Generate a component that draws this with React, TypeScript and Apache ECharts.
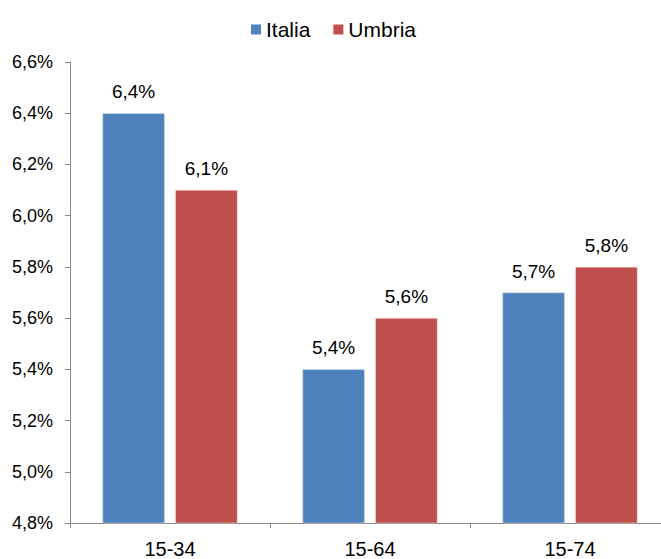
import React, { useEffect, useRef } from "react";
import * as echarts from "echarts";

const categories = ["15-34", "15-64", "15-74"];
const italia = [6.4, 5.4, 5.7];
const umbria = [6.1, 5.6, 5.8];
const seriesNames = ["Italia", "Umbria"];
const colors = ["#4F81BD", "#C0504D"];

const fmt = (v: number) => v.toFixed(1).replace(".", ",") + "%";

export default function App() {
  const ref = useRef<HTMLDivElement>(null);
  useEffect(() => {
    const chart = echarts.init(ref.current!, null, { renderer: "svg" });
    const font = "'Liberation Sans', Arial, sans-serif";
    const label = {
      show: true,
      position: "top",
      distance: 12,
      fontSize: 19,
      color: "#000",
      fontFamily: font,
      formatter: (p: any) => fmt(p.value),
    };
    chart.setOption({
      animation: false,
      textStyle: { fontFamily: font },
      legend: {
        top: 14,
        left: 246,
        itemWidth: 10,
        itemHeight: 10,
        itemGap: 23,
        icon: "rect",
        itemStyle: { borderWidth: 0 },
        textStyle: { fontSize: 21, color: "#000", fontFamily: font },
        data: seriesNames,
      },
      grid: { left: 70, right: 0, top: 62, bottom: 36 },
      xAxis: {
        type: "category",
        data: categories,
        axisLine: { lineStyle: { color: "#868686", width: 1 } },
        axisTick: { show: true, length: 5, lineStyle: { color: "#868686" } },
        axisLabel: { fontSize: 20, color: "#000", margin: 16, fontFamily: font },
      },
      yAxis: {
        type: "value",
        min: 4.8,
        max: 6.6,
        interval: 0.2,
        axisLine: { show: true, lineStyle: { color: "#868686", width: 1 } },
        axisTick: { show: true, length: 5, lineStyle: { color: "#868686" } },
        splitLine: { show: false },
        axisLabel: {
          fontSize: 18,
          color: "#000",
          margin: 17,
          fontFamily: font,
          formatter: (v: number) => fmt(v),
        },
      },
      series: [
        {
          name: seriesNames[0],
          type: "bar",
          data: italia,
          itemStyle: { color: colors[0], borderColor: "#DCE6F2", borderWidth: 0.5 },
          barGap: "17%",
          barCategoryGap: "32.5%",
          label,
        },
        {
          name: seriesNames[1],
          type: "bar",
          data: umbria,
          itemStyle: { color: colors[1], borderColor: "#F2DCDB", borderWidth: 0.5 },
          barGap: "17%",
          barCategoryGap: "32.5%",
          label,
        },
      ],
    });
    return () => chart.dispose();
  }, []);
  return (
    <div style={{ width: 661, height: 559, position: "absolute", left: 0, top: 0, overflow: "hidden" }}>
      <div ref={ref} style={{ width: 670, height: 559 }} />
    </div>
  );
}
